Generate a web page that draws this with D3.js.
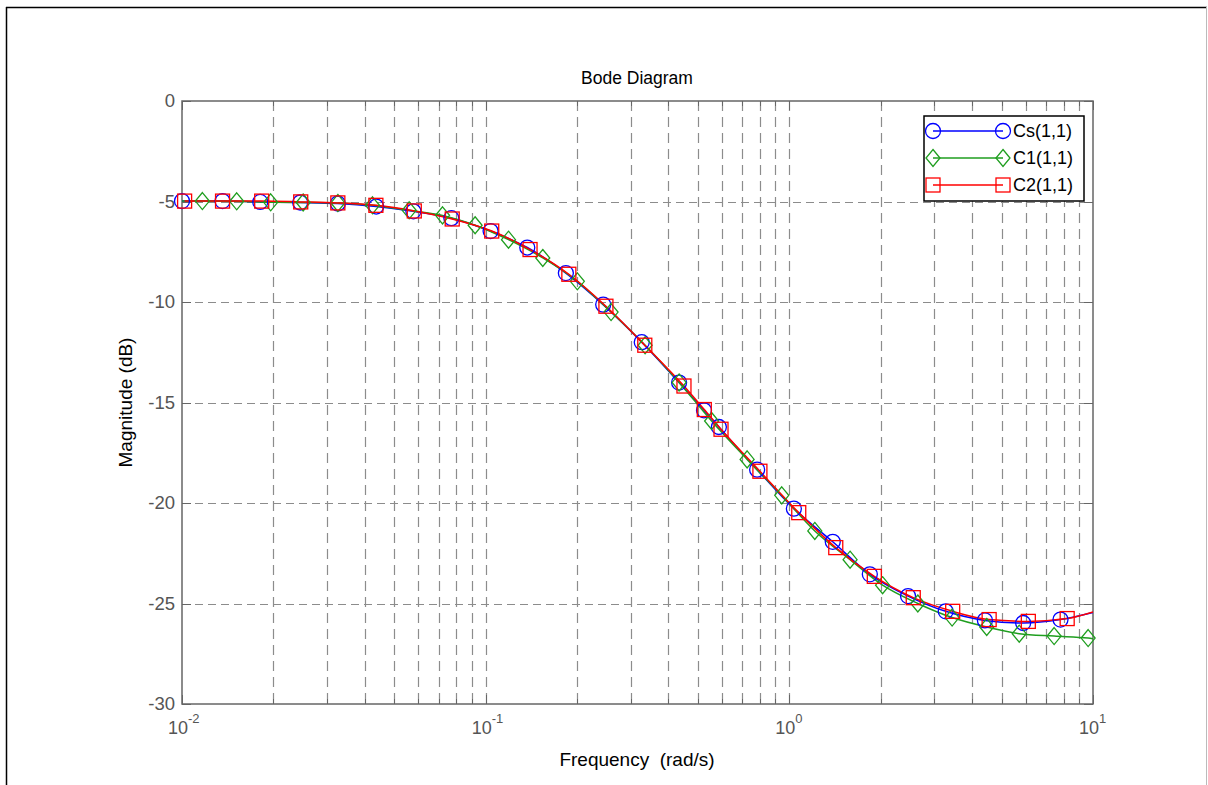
<!DOCTYPE html>
<html>
<head>
<meta charset="utf-8">
<script src="https://cdn.jsdelivr.net/npm/d3@7"></script>
<style>
  body { margin: 0; background: #fff; }
  text { font-family: Arial, "Liberation Sans", sans-serif; }
</style>
</head>
<body>
<div id="chart"></div>
<script>
// values (rad/s, dB)
const csFreq = [0.0100, 0.0136, 0.0181, 0.0245, 0.0326, 0.0436, 0.0578, 0.0771, 0.1038, 0.1371, 0.1837, 0.2438, 0.3266, 0.4335, 0.5236, 0.5861, 0.7834, 1.035, 1.390, 1.841, 2.460, 3.273, 4.406, 5.888, 7.816, 10];
const csMag  = [-4.98, -4.98, -5.02, -5.05, -5.10, -5.25, -5.49, -5.83, -6.47, -7.29, -8.56, -10.13, -12.00, -14.01, -15.39, -16.22, -18.34, -20.28, -21.93, -23.55, -24.63, -25.39, -25.84, -25.97, -25.80, -25.45];

const c1Freq = [0.0100, 0.01167, 0.01514, 0.01959, 0.02506, 0.0326, 0.0424, 0.0560, 0.0721, 0.0923, 0.1189, 0.1542, 0.2004, 0.2588, 0.3350, 0.4335, 0.5546, 0.7261, 0.9441, 1.213, 1.585, 2.028, 2.649, 3.436, 4.467, 5.715, 7.447, 9.638, 10];
const c1Mag  = [-4.98, -4.98, -4.99, -5.04, -5.05, -5.07, -5.19, -5.44, -5.69, -6.18, -6.90, -7.81, -8.97, -10.50, -12.15, -14.00, -15.92, -17.83, -19.62, -21.39, -22.82, -24.09, -25.00, -25.70, -26.17, -26.50, -26.62, -26.72, -26.76];

const c2Freq = [0.0102, 0.0136, 0.0183, 0.0246, 0.0326, 0.0435, 0.0582, 0.0776, 0.1047, 0.1400, 0.1879, 0.2489, 0.3342, 0.4498, 0.5248, 0.5957, 0.8000, 1.074, 1.422, 1.905, 2.559, 3.451, 4.550, 6.124, 8.222, 10];
const c2Mag  = [-4.98, -4.98, -4.98, -5.02, -5.07, -5.19, -5.47, -5.87, -6.47, -7.39, -8.62, -10.21, -12.15, -14.18, -15.35, -16.33, -18.42, -20.48, -22.22, -23.65, -24.71, -25.39, -25.80, -25.89, -25.75, -25.42];

const seriesNames = ["Cs(1,1)", "C1(1,1)", "C2(1,1)"];
const yTicks = [0, -5, -10, -15, -20, -25, -30];
const xDecades = [0.01, 0.1, 1, 10];
const xDecadeExp = ["-2", "-1", "0", "1"];

const W = 1208, H = 785;
const plot = { left: 182, right: 1093, top: 101, bottom: 704 };

const series = [
  { name: seriesNames[0], freq: csFreq, mag: csMag, color: "#0000ff", marker: "circle", bare: [25] },
  { name: seriesNames[1], freq: c1Freq, mag: c1Mag, color: "#1f9e1f", marker: "diamond", bare: [0, 28] },
  { name: seriesNames[2], freq: c2Freq, mag: c2Mag, color: "#ff0000", marker: "square", bare: [25] }
];

const svg = d3.select("#chart").append("svg")
  .attr("width", W)
  .attr("height", H);

// figure frame
svg.append("line").attr("x1", 6.5).attr("x2", 6.5).attr("y1", 7).attr("y2", H).attr("stroke", "#000").attr("stroke-width", 1.5);
svg.append("line").attr("x1", 6).attr("x2", 1207).attr("y1", 7.5).attr("y2", 7.5).attr("stroke", "#000").attr("stroke-width", 1.5);
svg.append("line").attr("x1", 1206.5).attr("x2", 1206.5).attr("y1", 7).attr("y2", H).attr("stroke", "#bbb").attr("stroke-width", 1);

const x = d3.scaleLog().domain([0.01, 10]).range([plot.left, plot.right]);
const y = d3.scaleLinear().domain([-30, 0]).range([plot.bottom, plot.top]);

const gridColor = "#8c8c8c";
const axisColor = "#666";

// grid
const g = svg.append("g");
g.selectAll("line.vgrid")
  .data(x.ticks().filter(d => d > 0.0100001 && d < 9.99))
  .enter().append("line")
  .attr("class", "vgrid")
  .attr("x1", d => Math.round(x(d)) + 0.5).attr("x2", d => Math.round(x(d)) + 0.5)
  .attr("y1", plot.top).attr("y2", plot.bottom)
  .attr("stroke", gridColor).attr("stroke-width", 1.2)
  .attr("stroke-dasharray", "10,6");

g.selectAll("line.hgrid")
  .data(yTicks.filter(d => d > -30 && d < 0))
  .enter().append("line")
  .attr("class", "hgrid")
  .attr("x1", plot.left).attr("x2", plot.right)
  .attr("y1", d => Math.round(y(d)) + 0.5).attr("y2", d => Math.round(y(d)) + 0.5)
  .attr("stroke", gridColor).attr("stroke-width", 1.2)
  .attr("stroke-dasharray", "8,5");

// inward ticks
const tk = svg.append("g").attr("stroke", axisColor).attr("stroke-width", 1);
x.ticks().forEach(d => {
  const major = xDecades.includes(d);
  const len = major ? 9 : 5;
  const px = Math.round(x(d)) + 0.5;
  tk.append("line").attr("x1", px).attr("x2", px).attr("y1", plot.bottom).attr("y2", plot.bottom - len);
  tk.append("line").attr("x1", px).attr("x2", px).attr("y1", plot.top).attr("y2", plot.top + len);
});
yTicks.forEach(d => {
  const py = Math.round(y(d)) + 0.5;
  tk.append("line").attr("x1", plot.left).attr("x2", plot.left + 9).attr("y1", py).attr("y2", py);
  tk.append("line").attr("x1", plot.right).attr("x2", plot.right - 9).attr("y1", py).attr("y2", py);
});

// axes box
svg.append("rect")
  .attr("x", plot.left).attr("y", plot.top)
  .attr("width", plot.right - plot.left).attr("height", plot.bottom - plot.top)
  .attr("fill", "none").attr("stroke", axisColor).attr("stroke-width", 1.5);

// tick labels
svg.append("g").selectAll("text")
  .data(yTicks)
  .enter().append("text")
  .attr("x", plot.left - 7)
  .attr("y", d => y(d))
  .attr("dy", "0.35em")
  .attr("text-anchor", "end")
  .attr("font-size", 18.5)
  .attr("fill", "#555")
  .text(d => d);

const xl = svg.append("g").selectAll("text")
  .data(xDecades)
  .enter().append("text")
  .attr("x", d => x(d) - 14)
  .attr("y", 734)
  .attr("font-size", 18)
  .attr("fill", "#555");
xl.append("tspan").text("10");
xl.append("tspan").attr("dy", -11).attr("font-size", 13).text((d, i) => xDecadeExp[i]);

// titles
svg.append("text").attr("x", 637).attr("y", 84).attr("text-anchor", "middle")
  .attr("font-size", 17.5).attr("fill", "#000").text("Bode Diagram");
svg.append("text").attr("x", 637).attr("y", 766).attr("text-anchor", "middle")
  .attr("font-size", 19).attr("fill", "#000").attr("xml:space", "preserve").text("Frequency  (rad/s)");
svg.append("text")
  .attr("transform", `translate(132,${(plot.top + plot.bottom) / 2}) rotate(-90)`)
  .attr("text-anchor", "middle")
  .attr("font-size", 19).attr("fill", "#000").text("Magnitude (dB)");

// markers
const drawMarker = (sel, type, color) => {
  if (type === "circle") {
    sel.append("circle").attr("r", 7.5);
  } else if (type === "square") {
    sel.append("rect").attr("x", -7).attr("y", -7).attr("width", 14).attr("height", 14);
  } else {
    sel.append("path").attr("d", "M0,-8.5L7,0L0,8.5L-7,0Z");
  }
  sel.selectAll("*").attr("fill", "none").attr("stroke", color).attr("stroke-width", 1.3);
};

const line = d3.line().curve(d3.curveMonotoneX);
svg.append("clipPath").attr("id", "plotclip").append("rect")
  .attr("x", plot.left).attr("y", plot.top)
  .attr("width", plot.right - plot.left).attr("height", plot.bottom - plot.top);

const lines = svg.append("g").attr("clip-path", "url(#plotclip)");
series.forEach(s => {
  const pts = s.freq.map((f, i) => [x(f), y(s.mag[i])]);
  lines.append("path")
    .attr("d", line(pts))
    .attr("fill", "none")
    .attr("stroke", s.color)
    .attr("stroke-width", 1.5);
});
series.forEach(s => {
  const pts = s.freq.map((f, i) => ({ px: x(f), py: y(s.mag[i]), i }))
    .filter(p => !s.bare.includes(p.i));
  const mk = svg.append("g").selectAll("g")
    .data(pts)
    .enter().append("g")
    .attr("transform", p => `translate(${p.px},${p.py})`);
  drawMarker(mk, s.marker, s.color);
});

// legend
const lg = svg.append("g");
const lgBox = { left: 924, right: 1084, top: 116, bottom: 201 };
lg.append("rect")
  .attr("x", lgBox.left).attr("y", lgBox.top)
  .attr("width", lgBox.right - lgBox.left).attr("height", lgBox.bottom - lgBox.top)
  .attr("fill", "#fff").attr("stroke", "#000").attr("stroke-width", 1.5);
series.forEach((s, i) => {
  const ry = 131 + i * 27;
  const row = lg.append("g");
  row.append("line").attr("x1", 933).attr("x2", 1003).attr("y1", ry).attr("y2", ry)
    .attr("stroke", s.color).attr("stroke-width", 1.3);
  [933, 1003].forEach(px => {
    const m = row.append("g").attr("transform", `translate(${px},${ry})`);
    drawMarker(m, s.marker, s.color);
  });
  row.append("text").attr("x", 1013).attr("y", ry).attr("dy", "0.36em")
    .attr("font-size", 18).attr("fill", "#000").text(s.name);
});
</script>
</body>
</html>
